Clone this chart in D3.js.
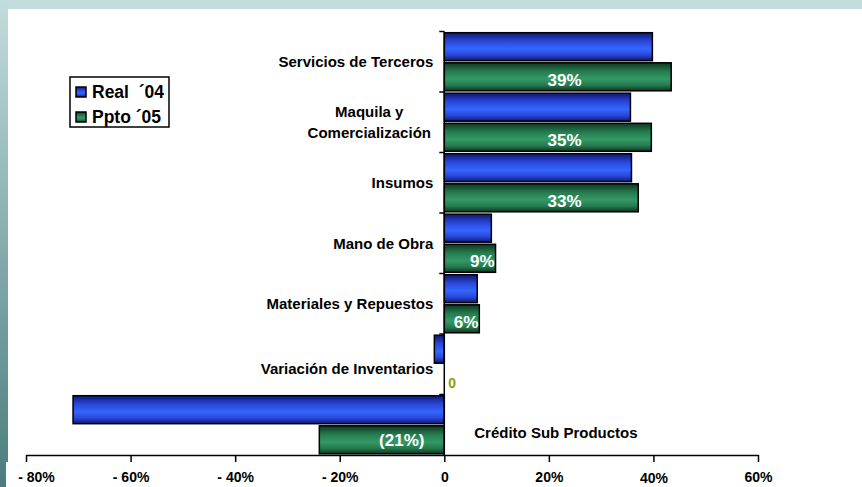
<!DOCTYPE html>
<html>
<head>
<meta charset="utf-8">
<script src="https://cdn.jsdelivr.net/npm/d3@7"></script>
<style>
  body { margin: 0; background: #c3dcdc; }
  svg { display: block; font-family: "Liberation Sans", Arial, sans-serif; font-weight: bold; }
</style>
</head>
<body>
<div id="chart"></div>
<script>
// Data
const categories = ["Servicios de Terceros", "Maquila y\nComercialización", "Insumos", "Mano de Obra",
  "Materiales y Repuestos", "Variación de Inventarios", "Crédito Sub Productos"];
const real04 = [39.8, 35.6, 35.8, 9.0, 6.3, -1.9, -71.0];
const ppto05 = [43.4, 39.6, 37.1, 9.8, 6.7, 0, -23.9];
const pptoLabels = ["39%", "35%", "33%", "9%", "6%", "0", "(21%)"];
const seriesNames = ["Real  ´04", "Ppto ´05"];
const tickValues = [-80, -60, -40, -20, 0, 20, 40, 60];
const tickLabels = ["- 80%", "- 60%", "- 40%", "- 20%", "0", "20%", "40%", "60%"];

const W = 862, H = 487;
const svg = d3.select("#chart").append("svg")
  .attr("width", W).attr("height", H);

// background frame
const defs = svg.append("defs");
const side = defs.append("linearGradient").attr("id", "side").attr("x1", 0).attr("y1", 0).attr("x2", 0).attr("y2", 1);
side.append("stop").attr("offset", "0%").attr("stop-color", "#c3dcdc");
side.append("stop").attr("offset", "100%").attr("stop-color", "#4a7d7d");

function barGrad(id, edge, mid, bright) {
  const g = defs.append("linearGradient").attr("id", id).attr("x1", 0).attr("y1", 0).attr("x2", 0).attr("y2", 1);
  g.append("stop").attr("offset", "0%").attr("stop-color", edge);
  g.append("stop").attr("offset", "30%").attr("stop-color", mid);
  g.append("stop").attr("offset", "58%").attr("stop-color", bright);
  g.append("stop").attr("offset", "80%").attr("stop-color", mid);
  g.append("stop").attr("offset", "100%").attr("stop-color", edge);
}
barGrad("gBlue", "#0e1870", "#2a46d8", "#3366ff");
barGrad("gGreen", "#0d3520", "#267a4e", "#339966");

svg.append("rect").attr("width", W).attr("height", H).attr("fill", "#c3dcdc");
svg.append("rect").attr("x", 0).attr("y", 0).attr("width", 8).attr("height", H).attr("fill", "url(#side)");
svg.append("rect").attr("x", 8).attr("y", 9).attr("width", W - 8).attr("height", H - 9).attr("fill", "#fff");
svg.append("rect").attr("x", 6).attr("y", 462).attr("width", 4).attr("height", H - 462).attr("fill", "#fff");

// Scales
const x = d3.scaleLinear().domain([-80, 60]).range([26, 758]);
const y = d3.scaleBand().domain(d3.range(categories.length)).range([31.5, 455]).padding(0);
const ySub = d3.scaleBand().domain([0, 1]).range([0, y.bandwidth()]).paddingInner(0.07).paddingOuter(0.04);

const fills = ["url(#gBlue)", "url(#gGreen)"];
const series = [real04, ppto05];

// Bars
series.forEach((vals, s) => {
  svg.append("g").selectAll("rect")
    .data(vals)
    .join("rect")
    .attr("x", d => x(Math.min(0, d)))
    .attr("y", (d, i) => y(i) + ySub(s))
    .attr("width", d => Math.abs(x(d) - x(0)))
    .attr("height", ySub.bandwidth())
    .attr("fill", fills[s])
    .attr("stroke", "#000")
    .attr("stroke-width", d => d === 0 ? 0 : 1.5);
});

// Ppto labels
svg.append("g").selectAll("text")
  .data(ppto05)
  .join("text")
  .attr("y", (d, i) => y(i) + ySub(1) + ySub.bandwidth() / 2 + (d < 0 ? 6 : 9))
  .attr("font-size", 17)
  .each(function (d, i) {
    const t = d3.select(this).text(pptoLabels[i]);
    if (d === 0) {
      t.attr("x", x(0) + 4).attr("text-anchor", "start").attr("fill", "#999900").attr("font-size", 14);
    } else if (d < 0) {
      t.attr("x", x(d / 2) + 20).attr("text-anchor", "middle").attr("fill", "#fff");
    } else if (x(d) - x(0) > 100) {
      t.attr("x", x(23)).attr("text-anchor", "middle").attr("fill", "#fff");
    } else {
      t.attr("x", x(d) - 1).attr("text-anchor", "end").attr("fill", "#fff");
    }
  });

// X axis
const xAxis = svg.append("g")
  .attr("transform", "translate(0,455)")
  .call(d3.axisBottom(x).tickValues(tickValues).tickFormat((d, i) => tickLabels[i]).tickSize(7).tickSizeOuter(0));
xAxis.select(".domain").attr("stroke", "#000").attr("stroke-width", 1.5);
xAxis.selectAll(".tick line").attr("stroke", "#000").attr("stroke-width", 1.5);
xAxis.selectAll(".tick text").attr("fill", "#000").attr("font-size", 14).attr("font-weight", "bold")
  .attr("font-family", "Liberation Sans, Arial, sans-serif").attr("dy", "1.2em")
  .attr("dx", d => d === -80 ? 10 : 0)
  .attr("transform", d => d === 40 ? "translate(0,1)" : null);

// Y axis (at zero)
svg.append("line").attr("x1", x(0)).attr("x2", x(0)).attr("y1", y(0)).attr("y2", 455)
  .attr("stroke", "#000").attr("stroke-width", 1.5);
svg.append("g").selectAll("line")
  .data(d3.range(categories.length))
  .join("line")
  .attr("x1", x(0) - 5).attr("x2", x(0))
  .attr("y1", d => y(d)).attr("y2", d => y(d))
  .attr("stroke", "#000").attr("stroke-width", 1.5);

// Category labels
const catOffset = [0, 0, 0, 0, 0, 4, 8];
const catG = svg.append("g").attr("font-size", 15).attr("fill", "#000");
categories.forEach((c, i) => {
  const lines = c.split("\n");
  const neg = real04[i] < -10;
  const cy = y(i) + y.bandwidth() / 2 + catOffset[i];
  const t = catG.append("text")
    .attr("text-anchor", neg ? "start" : (lines.length > 1 ? "middle" : "end"))
    .attr("x", neg ? x(0) + 30 : (lines.length > 1 ? x(0) - 75 : x(0) - 11))
    .attr("y", cy + 5.5 - (lines.length - 1) * 10.5);
  lines.forEach((l, k) => {
    t.append("tspan").attr("x", t.attr("x")).attr("dy", k === 0 ? 0 : 21).text(l);
  });
});

// Legend
const leg = svg.append("g").attr("transform", "translate(70,77)");
leg.append("rect").attr("width", 99).attr("height", 50).attr("fill", "#fff")
  .attr("stroke", "#000").attr("stroke-width", 1.5);
seriesNames.forEach((n, i) => {
  const g = leg.append("g").attr("transform", `translate(6,${10 + i * 25})`);
  g.append("rect").attr("width", 10).attr("height", 10).attr("fill", fills[i])
    .attr("stroke", "#000").attr("stroke-width", 1.5);
  g.append("text").attr("x", 16).attr("y", 11).attr("font-size", 17.5)
    .attr("xml:space", "preserve").style("white-space", "pre").text(n);
});
</script>
</body>
</html>
